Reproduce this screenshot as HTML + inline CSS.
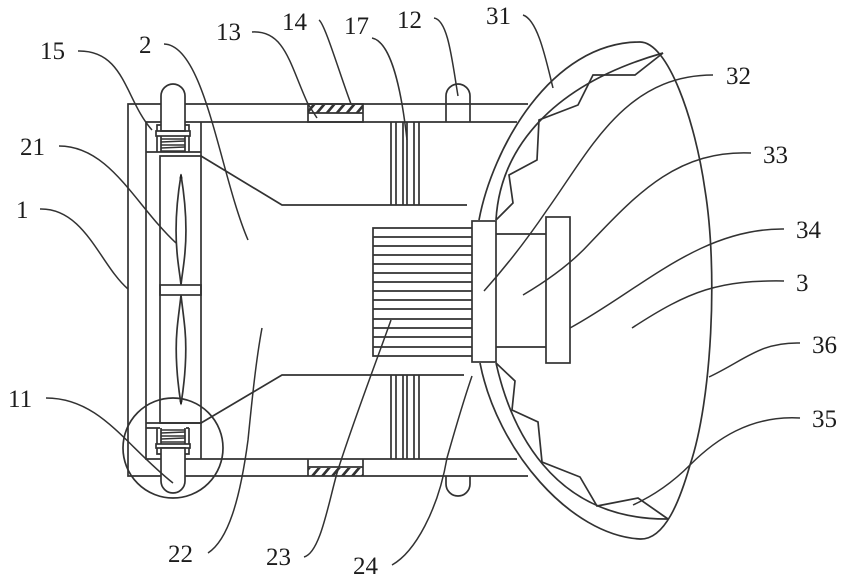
<!DOCTYPE html>
<html>
<head>
<meta charset="utf-8">
<style>
html,body{margin:0;padding:0;background:#fff;width:847px;height:585px;overflow:hidden}
svg{display:block}
text{font-family:"Liberation Serif",serif;font-size:25px;fill:#1c1c1c}
.l{fill:none;stroke:#333;stroke-width:1.7}
.t{fill:none;stroke:#333;stroke-width:1.5}
.w{fill:#fff;stroke:#333;stroke-width:1.7}
</style>
</head>
<body>
<svg width="847" height="585" viewBox="0 0 847 585" xmlns="http://www.w3.org/2000/svg">
<defs>
<pattern id="h" width="10" height="9" patternUnits="userSpaceOnUse" patternTransform="skewX(-40)">
<rect width="3.5" height="9" fill="#333"/>
</pattern>
<filter id="b" x="0" y="0" width="100%" height="100%"><feGaussianBlur stdDeviation="0.35"/></filter>
</defs>
<g filter="url(#b)">
<!-- housing -->
<g class="l">
<path d="M528 104H128V476H528"/>
<path d="M517 122H146V459H517"/>
<path d="M160 156H201V423H160Z"/>
<path d="M146 152H201M146 423H201"/>
<path d="M201 122V156M201 423V459"/>
<path d="M201 156L282 205H467M201 423L282 375H464"/>
<path d="M391 122V205M396 122V205M403 122V205M407 122V205M414 122V205M419 122V205"/>
<path d="M391 375V459M396 375V459M403 375V459M407 375V459M414 375V459M419 375V459"/>
<rect x="308" y="104" width="55" height="18"/>
<path d="M308 113H363M308 467H363M308 459V476M363 459V476"/>
<path d="M446 122V96A12 12 0 0 1 470 96V122"/>
<path d="M446 476V484A12 12 0 0 0 470 484V476"/>
</g>
<rect x="308" y="105" width="55" height="8" fill="url(#h)"/>
<rect x="308" y="468" width="55" height="8" fill="url(#h)"/>

<!-- top spring assembly -->
<g class="l">
<path class="w" d="M161 131V96A12 12 0 0 1 185 96V131Z"/>
<path d="M157 131V125H161M189 131V125H185"/>
<rect x="156" y="131" width="34" height="5"/>
<path d="M157 136V152M189 136V152"/>
<path d="M161 136V152M185 136V152"/>
<path d="M161 139H185M161 142L185 141M161 145H185M161 148L185 147M161 151H185" stroke-width="1.4"/>
</g>
<!-- bottom spring assembly -->
<g class="l">
<path d="M157 428V444M189 428V444M161 428V444M185 428V444"/>
<path d="M161 430H185M161 433L185 432M161 436H185M161 439L185 438M161 442H185" stroke-width="1.4"/>
<rect x="156" y="444" width="34" height="4"/>
<path d="M157 448V454H161M189 448V454H185"/>
<path class="w" d="M161 448V481A12 12 0 0 0 185 481V448Z"/>
<path d="M146 428H160M186 428H189"/>
<circle cx="173" cy="448" r="50"/>
</g>

<!-- fan -->
<g class="l">
<rect x="160" y="285" width="41" height="10"/>
<path d="M181 175C176 205 175 230 177 252C178 265 180 275 181 285C182 275 184 265 185 252C187 230 186 205 181 175Z"/>
<path d="M181 295C180 305 178 318 177 330C175 352 177 380 181 404C185 380 187 352 185 330C184 318 182 305 181 295Z"/>
</g>
<path d="M180 178L181 174L182 178ZM180 401L181 404L182 401Z" fill="#222" stroke="#222"/>

<!-- heat sink -->
<g class="l">
<path d="M472 228H373V356H472"/>
<path d="M373 237H472M373 246H472M373 255H472M373 264H472M373 273H472M373 282H472M373 291H472M373 300H472M373 309H472M373 319H472M373 328H472M373 337H472M373 347H472"/>
<rect x="472" y="221" width="24" height="141"/>
<path d="M496 234H546M496 347H546"/>
<rect x="546" y="217" width="24" height="146"/>
</g>

<!-- reflector -->
<g class="l">
<path d="M479 220C492 150 550 42 640 42C668 42 695 120 705 190C718 270 712 400 690 465C680 500 665 540 640 539C570 535 497 450 480 363"/>
<path d="M496 220C500 150 550 85 663 53"/>
<path d="M496 363C510 425 550 520 668 519"/>
<path d="M496 220L513 203L509 175L537 160L539 120L578 105L593 75H635L663 53"/>
<path d="M496 363L515 381L512 410L538 422L542 462L580 477L597 506L638 498L668 519"/>
</g>

<!-- leaders -->
<g class="t">
<path d="M40 209C85 208 100 265 128 289"/>
<path d="M59 146C110 146 135 205 176 243"/>
<path d="M78 51C125 50 125 100 152 130"/>
<path d="M164 44C205 45 220 175 248 240"/>
<path d="M46 398C100 398 125 445 173 483"/>
<path d="M252 32C285 30 290 65 308 104L317 118"/>
<path d="M319 20C325 24 340 75 351 104"/>
<path d="M372 38C392 42 402 95 407 140"/>
<path d="M434 18C448 20 452 60 458 96"/>
<path d="M523 15C538 20 546 60 553 88"/>
<path d="M713 75C625 75 590 150 547 210C530 235 510 262 484 291"/>
<path d="M751 153C680 150 640 190 590 243C570 265 545 282 523 295"/>
<path d="M784 229C700 228 640 290 570 328"/>
<path d="M784 281C720 280 690 290 632 328"/>
<path d="M800 343C760 342 745 360 709 377"/>
<path d="M800 418C750 415 715 440 690 465C675 480 655 495 633 505"/>
<path d="M208 553C228 540 240 500 248 440C252 400 256 360 262 328"/>
<path d="M304 557C320 553 328 505 337 473C352 425 375 365 391 320"/>
<path d="M392 565C415 552 438 510 447 458C455 430 462 405 472 376"/>
</g>

<!-- labels -->
<text x="40" y="59">15</text>
<text x="139" y="53">2</text>
<text x="216" y="40">13</text>
<text x="282" y="30">14</text>
<text x="344" y="34">17</text>
<text x="397" y="28">12</text>
<text x="486" y="24">31</text>
<text x="726" y="84">32</text>
<text x="763" y="163">33</text>
<text x="796" y="238">34</text>
<text x="796" y="291">3</text>
<text x="812" y="353">36</text>
<text x="812" y="427">35</text>
<text x="20" y="155">21</text>
<text x="16" y="218">1</text>
<text x="8" y="407">11</text>
<text x="168" y="562">22</text>
<text x="266" y="565">23</text>
<text x="353" y="574">24</text>
</g>
</svg>
</body>
</html>
